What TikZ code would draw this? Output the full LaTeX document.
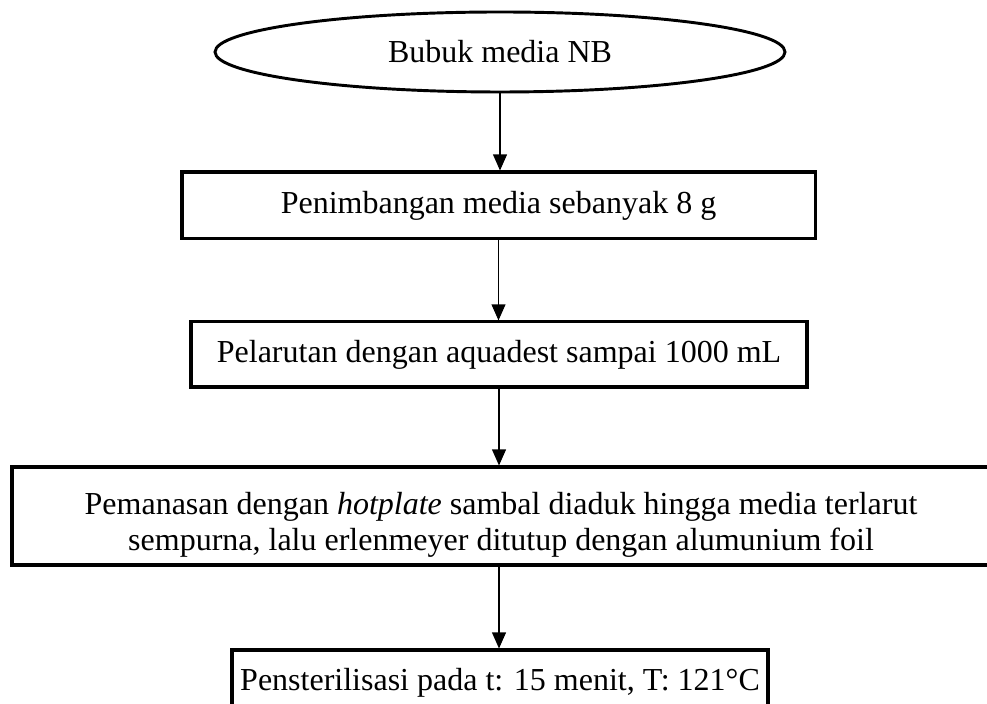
\documentclass[tikz,border=0pt]{standalone}
\usepackage{fontspec}
\setmainfont{Liberation Serif}
\usetikzlibrary{shapes.geometric,arrows.meta}

\tikzset{
  stepbox/.style={draw, line width=1.15pt, rectangle, inner sep=0pt,
    align=center, font=\fontsize{12}{13.2}\selectfont},
  startnode/.style={draw, line width=1.1pt, ellipse, inner sep=0pt,
    font=\fontsize{12}{13.2}\selectfont},
  flow/.style={line width=0.45pt, -{Triangle[width=5.2pt,length=6pt]}}
}

\begin{document}
\begin{tikzpicture}[x=0.375pt, y=-0.375pt]
  \clip (0,0) rectangle (987,704);
  \fill[white] (0,0) rectangle (987,704);

  \node[startnode, minimum width=213.75pt, minimum height=30pt] (start) at (500,52) {Bubuk media NB};

  \node[stepbox, minimum width=237.4pt, minimum height=25.1pt] (weigh) at (498.5,205.5)
    {Penimbangan media sebanyak 8 g};

  \node[stepbox, minimum width=231pt, minimum height=24.4pt] (dissolve) at (499,354.5)
    {Pelarutan dengan aquadest sampai 1000 mL};

  \node[stepbox, minimum width=366.75pt, minimum height=36.75pt] (heat) at (501,516)
    {\rule{0pt}{15pt}Pemanasan dengan \textit{hotplate} sambal diaduk hingga media terlarut\\
     sempurna, lalu erlenmeyer ditutup dengan alumunium foil};

  \node[stepbox, minimum width=201pt, minimum height=24.75pt] (sterile) at (500,683)
    {Pensterilisasi pada t: 15 menit, T: 121°C};

  \draw[flow] (start.south) -- (start.south |- weigh.north);
  \draw[flow] (weigh.south) -- (weigh.south |- dissolve.north);
  \draw[flow] (dissolve.south) -- (dissolve.south |- heat.north);
  \draw[flow] (heat.south -| dissolve.south) -- (dissolve.south |- sterile.north);
\end{tikzpicture}
\end{document}
